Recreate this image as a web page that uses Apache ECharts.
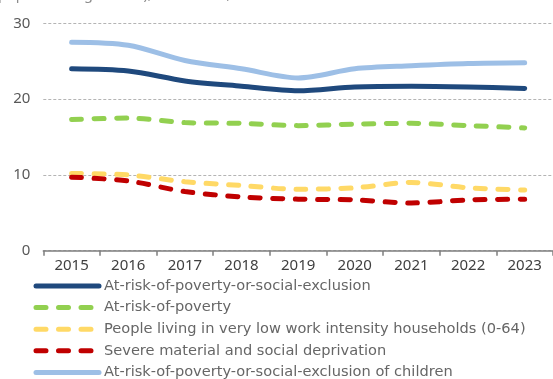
<!DOCTYPE html>
<html>
<head>
<meta charset="utf-8">
<script src="https://cdn.jsdelivr.net/npm/echarts@6/dist/echarts.min.js"></script>
<style>
  html, body { margin: 0; padding: 0; background: #fff; }
  #chart { width: 553px; height: 379px; }
</style>
</head>
<body>
<div id="chart"></div>
<script>
const years = ['2015', '2016', '2017', '2018', '2019', '2020', '2021', '2022', '2023'];
const arope = [24.0, 23.7, 22.4, 21.7, 21.1, 21.6, 21.7, 21.6, 21.4];
const arop = [17.3, 17.5, 16.9, 16.8, 16.5, 16.7, 16.8, 16.5, 16.2];
const lowWork = [10.2, 10.0, 9.1, 8.6, 8.1, 8.3, 9.0, 8.3, 8.0];
const smsd = [9.7, 9.2, 7.8, 7.1, 6.8, 6.7, 6.3, 6.7, 6.8];
const aropeChildren = [27.5, 27.1, 25.1, 24.0, 22.8, 24.0, 24.4, 24.7, 24.8];
const yTicks = [0, 10, 20, 30];

const myChart = echarts.init(document.getElementById('chart'));

const font = '"Noto Sans", sans-serif';
const legendFont = '"DejaVu Sans", sans-serif';
const dash = [10, 12.5];

function line(name, data, color, dashed) {
  return {
    name: name,
    type: 'line',
    data: data,
    smooth: 0.3,
    symbol: 'none',
    lineStyle: {
      color: color,
      width: 5,
      type: dashed ? dash : 'solid',
      cap: 'round'
    },
    itemStyle: { color: color },
    z: dashed ? 2 : 3
  };
}

const option = {
  animation: false,
  textStyle: { fontFamily: font },
  graphic: [{
    type: 'text',
    left: -2,
    top: -13,
    style: {
      text: 'population aged 0-64), 2015-2023, EU',
      font: '14.5px ' + font,
      fill: '#8c8c8c'
    }
  }],
  grid: {
    left: 43.3,
    top: 23.3,
    width: 518.4,
    height: 227.4
  },
  legend: {
    orient: 'vertical',
    left: 33.5,
    top: 275.2,
    height: 200,
    padding: 0,
    itemWidth: 63,
    itemHeight: 21.6,
    itemGap: 0,
    data: ['At-risk-of-poverty-or-social-exclusion', 'At-risk-of-poverty',
      'People living in very low work intensity households (0-64)',
      'Severe material and social deprivation',
      'At-risk-of-poverty-or-social-exclusion of children'],
    lineStyle: { width: 5 },
    itemStyle: { opacity: 0 },
    textStyle: { fontFamily: legendFont, fontSize: 14.6, lineHeight: 21.6, color: '#666666' }
  },
  xAxis: {
    type: 'category',
    data: years,
    boundaryGap: true,
    axisLine: { lineStyle: { color: '#7f7f7f', width: 1.5 } },
    axisTick: { show: true, length: 5, lineStyle: { color: '#7f7f7f', width: 1.5 } },
    axisLabel: { fontFamily: font, fontSize: 15, color: '#404040', margin: 8 }
  },
  yAxis: {
    type: 'value',
    min: yTicks[0],
    max: yTicks[yTicks.length - 1],
    interval: 10,
    axisLine: { show: false },
    axisTick: { show: false },
    axisLabel: { fontFamily: font, fontSize: 15, color: '#595959', margin: 13 },
    splitLine: { lineStyle: { color: '#b4b4b4', width: 1, type: [3, 2] } }
  },
  series: [
    line('At-risk-of-poverty-or-social-exclusion', arope, '#1f497d', false),
    line('At-risk-of-poverty', arop, '#92d050', true),
    line('People living in very low work intensity households (0-64)', lowWork, '#ffd966', true),
    line('Severe material and social deprivation', smsd, '#c00000', true),
    line('At-risk-of-poverty-or-social-exclusion of children', aropeChildren, '#9dbfe6', false)
  ]
};

option && myChart.setOption(option);
</script>
</body>
</html>
